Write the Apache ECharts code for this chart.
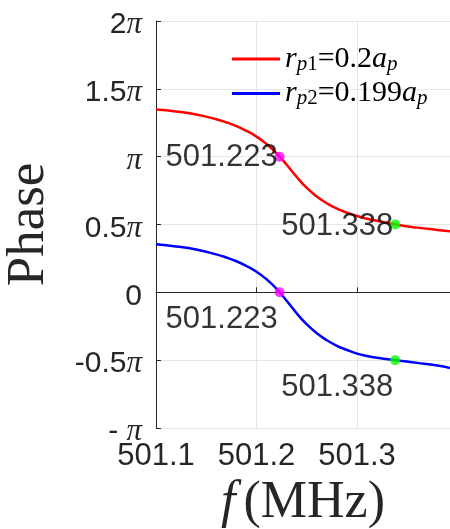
<!DOCTYPE html>
<html><head><meta charset="utf-8">
<script src="https://cdn.jsdelivr.net/npm/echarts@6/dist/echarts.min.js"></script>
<style>html,body{margin:0;padding:0;background:#fff}#c{width:450px;height:529px}</style>
</head><body><div id="c"></div>
<script>
// frequency (MHz)
const freq = [501.10, 501.12, 501.14, 501.16, 501.17, 501.18, 501.19, 501.20, 501.21, 501.22, 501.23, 501.24, 501.25, 501.26, 501.27, 501.28, 501.29, 501.30, 501.31, 501.32, 501.34, 501.36, 501.38, 501.3925];
// phase in units of pi
const phase1 = [1.347, 1.333, 1.311, 1.276, 1.253, 1.225, 1.190, 1.148, 1.093, 1.025, 0.940, 0.850, 0.770, 0.706, 0.656, 0.617, 0.587, 0.563, 0.543, 0.527, 0.498, 0.477, 0.460, 0.450];
const phase2 = [0.354, 0.338, 0.315, 0.280, 0.257, 0.229, 0.194, 0.152, 0.096, 0.026, -0.062, -0.155, -0.236, -0.302, -0.353, -0.394, -0.425, -0.452, -0.470, -0.483, -0.502, -0.520, -0.540, -0.558];
const markA = [501.223, 1.0, 501.223, 0.0];   // magenta points
const markB = [501.338, 0.5, 501.338, -0.5];  // green points
const yTicks = {"-1": "- {p|π}", "-0.5": "-0.5{p|π}", "0": "0", "0.5": "0.5{p|π}", "1": "{p|π}", "1.5": "1.5{p|π}", "2": "2{p|π}"};
const name1 = "rp1", name2 = "rp2";

const chart = echarts.init(document.getElementById('c'));
const sans = 'Liberation Sans';
const serif = 'Liberation Serif';
const lbl = (offset) => ({show: true, position: 'left', distance: -3, offset: offset,
  formatter: p => p.value[0].toFixed(3), fontFamily: sans, fontSize: 31, color: '#000', textBorderWidth: 0});
const tc = '#262626';
chart.setOption({
  animation: false,
  grid: {left: 156, top: 21, right: 0, bottom: 101, outerBoundsMode: 'none', containLabel: false},
  xAxis: {
    type: 'value', min: 501.1, max: 501.3925, interval: 0.1,
    axisLine: {show: true, lineStyle: {color: tc, width: 1}},
    axisTick: {show: true, inside: true, length: 5, lineStyle: {color: tc}},
    splitLine: {show: true, lineStyle: {color: '#e5e5e5', width: 1}},
    axisLabel: {showMaxLabel: false, formatter: v => v.toFixed(1), fontFamily: sans, fontSize: 31, color: tc, margin: 13},
    name: '{i|f}{n|(MHz)}', nameLocation: 'middle', nameGap: 46,
    nameTextStyle: {rich: {i: {fontFamily: serif, fontStyle: 'italic', fontSize: 52, color: tc, padding: [0, 8, 0, 0]}, n: {fontFamily: serif, fontSize: 52, color: tc}}}
  },
  yAxis: {
    type: 'value', min: -1, max: 2, interval: 0.5,
    axisLine: {show: true, lineStyle: {color: tc, width: 1}},
    axisTick: {show: true, inside: true, length: 5, lineStyle: {color: tc}},
    splitLine: {show: true, lineStyle: {color: '#e5e5e5', width: 1}},
    axisLabel: {formatter: v => yTicks[String(v)], fontFamily: sans, fontSize: 30, color: tc, margin: 14, padding: [8, 0, 0, 0],
      rich: {p: {fontFamily: serif, fontStyle: 'italic', fontSize: 31, color: tc}}},
    name: 'Phase', nameLocation: 'middle', nameGap: 100, nameRotate: 90,
    nameTextStyle: {fontFamily: serif, fontSize: 53, color: tc}
  },
  legend: {
    data: [name1, name2], orient: 'vertical', left: 227, top: 39, itemGap: 4, padding: 5,
    icon: 'rect', itemWidth: 48, itemHeight: 3,
    formatter: n => n === name1 ? '{i|r}{s|p}{u|1}{n|=0.2}{i|a}{s|p}' : '{i|r}{s|p}{u|2}{n|=0.199}{i|a}{s|p}',
    textStyle: {rich: {
      i: {fontFamily: serif, fontStyle: 'italic', fontSize: 30, lineHeight: 31, color: '#000'},
      n: {fontFamily: serif, fontSize: 30, lineHeight: 31, color: '#000'},
      s: {fontFamily: serif, fontStyle: 'italic', fontSize: 21, lineHeight: 14, verticalAlign: 'bottom', color: '#000'},
      u: {fontFamily: serif, fontSize: 21, lineHeight: 14, verticalAlign: 'bottom', color: '#000'}
    }}
  },
  series: [
    {name: name1, type: 'line', data: freq.map((f, i) => [f, phase1[i]]), smooth: true, symbol: 'none',
     lineStyle: {color: '#ff0000', width: 2.5}, itemStyle: {color: '#ff0000'}},
    {name: name2, type: 'line', data: freq.map((f, i) => [f, phase2[i]]), smooth: true, symbol: 'none',
     lineStyle: {color: '#0000ff', width: 2.5}, itemStyle: {color: '#0000ff'}},
    {type: 'scatter', symbolSize: 10, itemStyle: {color: '#ff00ff'}, z: 5,
     data: [
       {value: [markA[0], markA[1]], label: lbl([0, 1])},
       {value: [markA[2], markA[3]], label: lbl([0, 27])}
     ]},
    {type: 'scatter', symbolSize: 10, itemStyle: {color: '#00ff00'}, z: 5,
     data: [
       {value: [markB[0], markB[1]], label: lbl([0, 2])},
       {value: [markB[2], markB[3]], label: lbl([0, 27])}
     ]}
  ]
});
</script></body></html>
